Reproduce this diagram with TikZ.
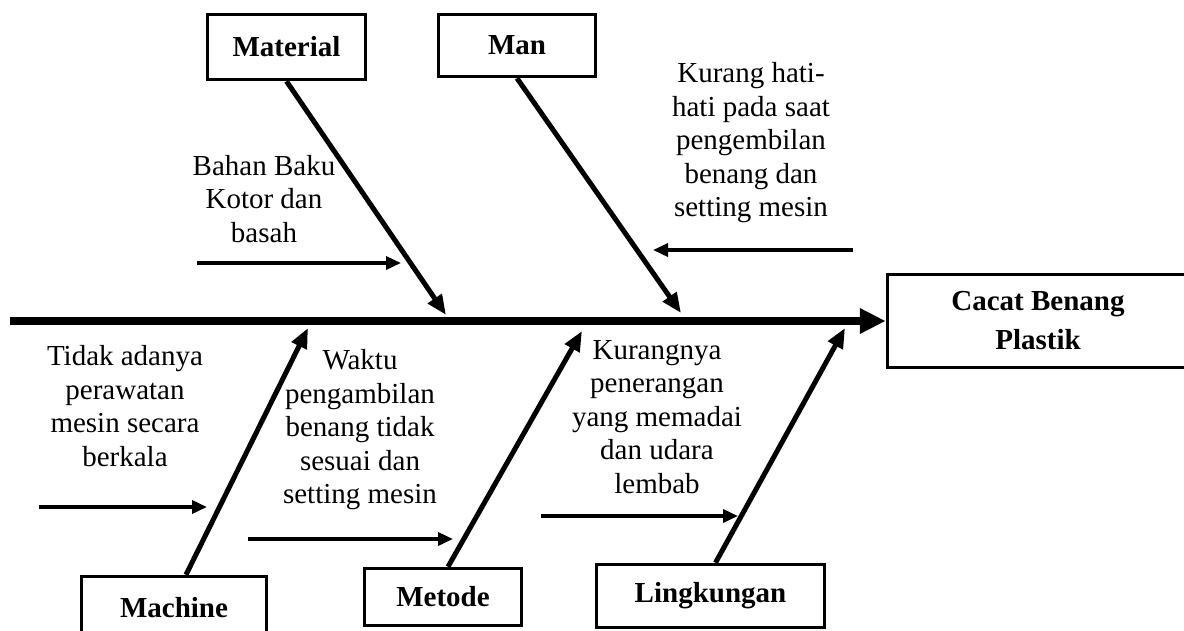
\documentclass[tikz,border=0pt]{standalone}
\usepackage{fontspec}
\setmainfont{Liberation Serif}
\usetikzlibrary{arrows.meta}
\begin{document}
\begin{tikzpicture}[x=1pt,y=-1pt,
  box/.style={draw,line width=3.5pt,font=\fontsize{29}{33.5}\selectfont\bfseries,inner sep=0pt,align=center},
  txt/.style={align=center,font=\fontsize{29}{33.5}\selectfont,inner sep=0pt},
  spine/.style={line width=8pt,-{Triangle[length=26pt,width=24pt]}},
  branch/.style={line width=5pt,-{Triangle[length=20pt,width=16pt]}},
  cause/.style={line width=3.5pt,-{Triangle[length=15pt,width=13pt]}}]
\useasboundingbox (0,0) rectangle (1184,630);
\clip (0,0) rectangle (1184,630);

% category boxes
\node[box,minimum width=158pt,minimum height=65pt] (mat) at (286.5,47) {Material};
\node[box,minimum width=157pt,minimum height=62pt] (man) at (517,45.5) {Man};
\node[box,minimum width=185pt,minimum height=62pt] (mach) at (174,607.5) {Machine};
\node[box,minimum width=157pt,minimum height=57pt] (met) at (443,597) {Metode};
\node[box,minimum width=228pt,minimum height=63pt] (ling) at (710.5,596) {Lingkungan};

% effect box
\node[box,minimum width=301pt,minimum height=93pt,font=\fontsize{29}{39}\selectfont\bfseries] (eff) at (1038,321) {Cacat Benang\\Plastik};

% spine
\coordinate (tail) at (10,321);
\draw[spine] (tail) -- (eff.west);

% branch tips on spine
\coordinate (tMat) at (446,315);
\coordinate (tMan) at (681,313);
\coordinate (tMach) at (308,328);
\coordinate (tMet) at (582,331);
\coordinate (tLing) at (845,328);

\draw[branch] (mat.south) -- (tMat);
\draw[branch] (man.south) -- (tMan);
\draw[branch] ([xshift=12pt]mach.north) -- (tMach);
\draw[branch] ([xshift=5pt]met.north) -- (tMet);
\draw[branch] ([xshift=5pt]ling.north) -- (tLing);

% cause texts
\node[txt] (bahan) at (264,199) {Bahan Baku\\Kotor dan\\basah};
\node[txt] (kurang) at (751,143) {Kurang hati-\\hati pada saat\\pengembilan\\benang dan\\setting mesin};
\node[txt] (tidak) at (125,406) {Tidak adanya\\perawatan\\mesin secara\\berkala};
\node[txt] (waktu) at (360,430) {Waktu\\pengambilan\\benang tidak\\sesuai dan\\setting mesin};
\node[txt] (kurangnya) at (657,417) {Kurangnya\\penerangan\\yang memadai\\dan udara\\lembab};

% cause arrows
\coordinate (aBs) at (197,263);   \coordinate (aBe) at (401,263);
\coordinate (aKs) at (853,250);   \coordinate (aKe) at (653,250);
\coordinate (aTs) at (39,507);    \coordinate (aTe) at (207,507);
\coordinate (aWs) at (248,539);   \coordinate (aWe) at (453,539);
\coordinate (aLs) at (541,516);   \coordinate (aLe) at (738,516);
\draw[cause] (aBs) -- (aBe);
\draw[cause] (aKs) -- (aKe);
\draw[cause] (aTs) -- (aTe);
\draw[cause] (aWs) -- (aWe);
\draw[cause] (aLs) -- (aLe);
\end{tikzpicture}
\end{document}
